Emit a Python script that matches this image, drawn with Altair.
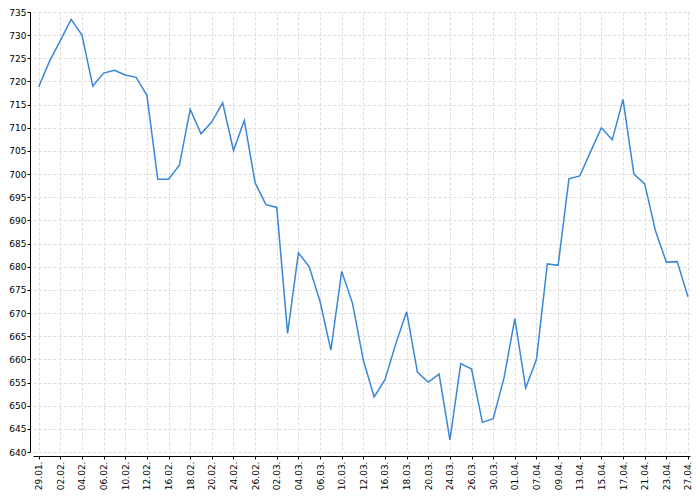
import altair as alt
import pandas as pd

dates = [
    "29.01.", "30.01.", "02.02.", "03.02.", "04.02.", "05.02.", "06.02.", "09.02.",
    "10.02.", "11.02.", "12.02.", "13.02.", "16.02.", "17.02.", "18.02.", "19.02.",
    "20.02.", "23.02.", "24.02.", "25.02.", "26.02.", "27.02.", "02.03.", "03.03.",
    "04.03.", "05.03.", "06.03.", "09.03.", "10.03.", "11.03.", "12.03.", "13.03.",
    "16.03.", "17.03.", "18.03.", "19.03.", "20.03.", "23.03.", "24.03.", "25.03.",
    "26.03.", "27.03.", "30.03.", "31.03.", "01.04.", "02.04.", "07.04.", "08.04.",
    "09.04.", "10.04.", "13.04.", "14.04.", "15.04.", "16.04.", "17.04.", "20.04.",
    "21.04.", "22.04.", "23.04.", "24.04.", "27.04.",
]

values = [
    718.8, 724.4, 728.8, 733.4, 730.0, 719.0, 721.8, 722.4, 721.4, 720.9,
    717.0, 698.9, 698.9, 701.9, 714.0, 708.7, 711.3, 715.4, 705.1, 711.6,
    698.1, 693.4, 692.8, 665.6, 683.0, 680.0, 672.5, 662.0, 679.0, 672.1,
    659.8, 651.9, 655.6, 663.4, 670.3, 657.2, 655.1, 656.8, 642.6, 659.1,
    657.9, 646.4, 647.2, 656.0, 668.8, 653.8, 660.0, 680.6, 680.3, 699.0,
    699.6, 704.85, 710.0, 707.4, 716.1, 700.0, 697.9, 687.7, 681.0, 681.1,
    673.5,
]

x_tick_labels = [
    "29.01.", "02.02.", "04.02.", "06.02.", "10.02.", "12.02.", "16.02.", "18.02.",
    "20.02.", "24.02.", "26.02.", "02.03.", "04.03.", "06.03.", "10.03.", "12.03.",
    "16.03.", "18.03.", "20.03.", "24.03.", "26.03.", "30.03.", "01.04.", "07.04.",
    "09.04.", "13.04.", "15.04.", "17.04.", "21.04.", "23.04.", "27.04.",
]

y_ticks = [640, 645, 650, 655, 660, 665, 670, 675, 680, 685, 690, 695,
           700, 705, 710, 715, 720, 725, 730, 735]

df = pd.DataFrame({"date": dates, "value": values})

chart = (
    alt.Chart(df)
    .mark_line(color="#3a86d8", strokeWidth=1.5)
    .encode(
        x=alt.X(
            "date:O",
            sort=None,
            scale=alt.Scale(type="point", padding=0.356, align=0.74),
            axis=alt.Axis(
                title=None,
                values=x_tick_labels,
                labelAngle=270,
                offset=4,
                tickSize=3,
                labelPadding=2,
                grid=True,
            ),
        ),
        y=alt.Y(
            "value:Q",
            scale=alt.Scale(domain=[640, 735], nice=False, zero=False),
            axis=alt.Axis(
                title=None,
                values=y_ticks,
                offset=3,
                tickSize=3,
                labelPadding=1,
                grid=True,
            ),
        ),
    )
    .properties(
        width=657,
        height=440,
        autosize=alt.AutoSizeParams(type="none"),
        padding={"left": 25, "top": 4, "right": 2, "bottom": 38},
    )
    .configure_view(stroke=None)
    .configure_axis(
        domainColor="black",
        tickColor="black",
        labelColor="black",
        labelFont="DejaVu Sans",
        labelFontSize=9,
        gridColor="#dcdcdc",
        gridDash=[3, 2],
        gridWidth=1,
        domainWidth=1,
    )
)

chart.save("out.html", embed_options={"renderer": "svg", "actions": False})
